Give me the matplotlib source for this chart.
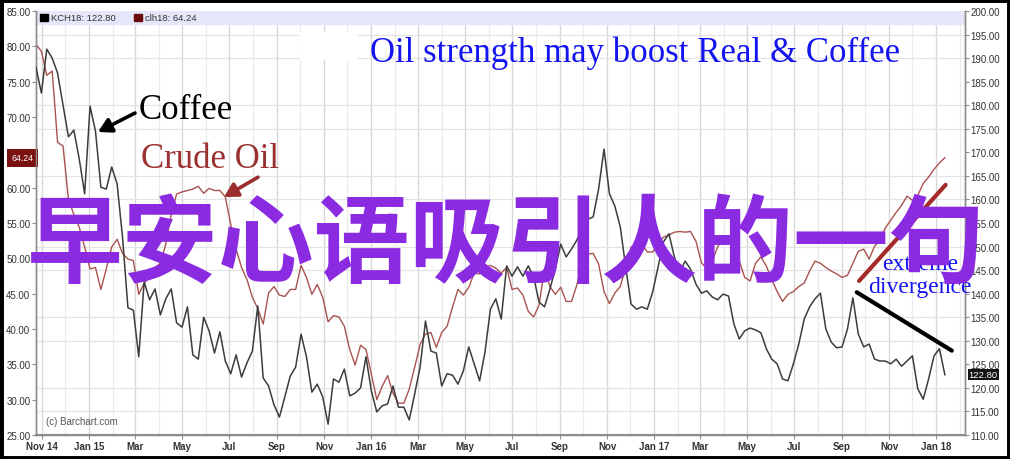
import matplotlib
matplotlib.use('Agg')
import matplotlib.pyplot as plt
import matplotlib.dates as mdates
from matplotlib.patches import Rectangle
from matplotlib.ticker import FixedLocator, FormatStrFormatter
import matplotlib.transforms as mtransforms
import numpy as np
import pandas as pd

# weekly closes, starting 2014-10-24
start_date = '2014-10-24'

coffee = [188.1, 182.6, 191.9, 190.0, 186.8, 180.0, 173.3, 174.7, 168.6, 161.2,
          179.8, 174.5, 162.6, 162.2, 166.9, 163.3, 152.0, 137.0, 136.5, 126.6,
          142.5, 138.7, 141.0, 135.5, 138.9, 141.0, 133.8, 132.9, 137.2, 127.0,
          126.1, 135.0, 132.1, 127.4, 131.9, 125.7, 123.0, 127.0, 122.3, 125.3,
          127.8, 137.4, 122.1, 120.4, 116.4, 113.8, 118.1, 122.5, 124.4, 131.4,
          126.6, 119.1, 120.8, 118.1, 112.3, 121.9, 121.2, 124.0, 118.3, 118.9,
          120.0, 126.6, 119.3, 114.9, 116.2, 116.6, 120.4, 115.9, 115.9, 113.2,
          118.7, 124.4, 134.2, 127.8, 127.4, 120.4, 123.0, 122.7, 120.8, 123.6,
          128.7, 125.1, 121.5, 127.6, 136.7, 138.9, 134.6, 145.9, 143.7, 145.7,
          143.7, 145.9, 143.5, 138.2, 137.2, 141.0, 145.2, 150.5, 147.8, 149.5,
          151.4, 154.2, 155.8, 156.3, 162.2, 170.7, 161.2, 158.6, 154.2, 145.7,
          137.8, 136.7, 137.2, 136.7, 140.4, 145.7, 151.0, 152.7, 147.8, 144.6,
          146.9, 145.2, 142.0, 140.1, 140.6, 139.3, 138.7, 139.9, 139.5, 133.6,
          130.4, 132.1, 132.7, 132.3, 131.7, 128.3, 126.1, 125.1, 121.9, 121.5,
          125.1, 129.3, 134.6, 137.2, 138.9, 140.1, 132.5, 129.7, 128.5, 128.7,
          132.5, 139.1, 131.4, 128.7, 129.3, 126.1, 125.7, 125.7, 125.1, 126.1,
          124.6, 125.7, 126.8, 119.8, 117.6, 121.9, 126.8, 128.3, 122.8]

crude = [80.3, 79.3, 75.9, 76.5, 66.4, 65.9, 58.4, 56.2, 54.4, 51.6,
         48.5, 48.7, 45.6, 48.5, 51.6, 52.7, 50.7, 49.9, 49.7, 44.9,
         46.5, 47.3, 48.7, 49.3, 52.0, 56.2, 59.1, 59.4, 59.6, 59.8,
         60.2, 59.2, 59.9, 59.6, 59.6, 58.7, 54.8, 51.3, 48.7, 47.0,
         44.5, 42.9, 40.7, 45.1, 46.0, 44.8, 44.6, 45.6, 45.6, 49.0,
         47.3, 44.9, 46.3, 44.5, 41.0, 41.9, 41.7, 40.4, 37.1, 34.9,
         37.7, 37.1, 33.6, 30.0, 31.9, 33.4, 30.9, 29.5, 29.5, 31.5,
         34.6, 37.8, 39.3, 39.5, 37.4, 39.5, 40.4, 43.1, 45.6, 44.8,
         45.9, 47.9, 47.8, 48.7, 49.0, 48.6, 47.9, 48.7, 45.6, 45.8,
         44.8, 42.5, 41.7, 43.4, 48.5, 46.0, 44.9, 45.9, 43.9, 43.9,
         46.3, 49.6, 50.6, 50.7, 49.2, 45.3, 43.6, 45.1, 46.0, 48.7,
         51.6, 51.7, 52.0, 50.9, 50.9, 52.1, 53.0, 53.3, 53.7, 53.8,
         53.7, 53.8, 52.4, 49.4, 48.5, 49.6, 51.6, 53.0, 52.3, 51.6,
         49.6, 47.3, 46.8, 49.3, 50.2, 48.9, 47.0, 45.3, 43.9, 44.9,
         45.3, 46.0, 46.5, 48.2, 49.6, 49.3, 48.7, 48.2, 47.8, 47.3,
         47.6, 49.3, 51.0, 51.3, 49.9, 51.7, 52.6, 54.3, 55.4, 56.5,
         57.5, 58.8, 58.2, 58.9, 60.6, 61.5, 62.6, 63.5, 64.24]

# hand-drawn trend lines (date, value)
oil_trend_dates = ['2017-09-23', '2018-01-13']
oil_trend_vals = [46.8, 60.4]
coffee_trend_dates = ['2017-09-20', '2018-01-21']
coffee_trend_vals = [140.3, 127.9]

dates = pd.date_range(start_date, periods=len(coffee), freq='7D')

fig = plt.figure(figsize=(10.1, 4.6), dpi=100)
ax = fig.add_axes([0.0356, 0.0522, 0.9198, 0.9217])
ax2 = ax.twinx()

grid_c = '#e3e3e3'
spine_c = '#8c8c8c'
lab_font = 'Liberation Sans'
serif = 'Liberation Serif'

# left axis: crude
ax.set_ylim(25, 85)
ax.set_xlim(pd.Timestamp('2014-10-24'), pd.Timestamp('2018-02-07'))
ax.yaxis.set_major_locator(FixedLocator(np.arange(25, 85.1, 5)))
ax.yaxis.set_major_formatter(FormatStrFormatter('%.2f'))
ax.yaxis.set_minor_locator(FixedLocator(25 + np.arange(0, 19) * 10 / 3))
ax.grid(True, which='minor', axis='y', color=grid_c, lw=0.9)
ax.tick_params(axis='y', which='minor', length=0)
ax.tick_params(axis='y', which='major', length=3, color=spine_c, labelsize=7,
               labelcolor='#333333', pad=1)

ax.xaxis.set_major_locator(mdates.MonthLocator(bymonth=[1, 3, 5, 7, 9, 11]))
ax.xaxis.set_minor_locator(mdates.MonthLocator())


def month_fmt(x, pos=None):
    d = mdates.num2date(x)
    if d.month == 1 or (d.month == 11 and d.year == 2014):
        return d.strftime('%b %y')
    return d.strftime('%b')


ax.xaxis.set_major_formatter(plt.FuncFormatter(month_fmt))
ax.grid(True, which='major', axis='x', color='#d6d6d6', lw=0.9)
ax.grid(True, which='minor', axis='x', color='#ebebeb', lw=0.9)
ax.tick_params(axis='x', which='major', length=3, color=spine_c, labelsize=7, pad=1)
ax.tick_params(axis='x', which='minor', length=0)
for t in ax.get_xticklabels():
    t.set_fontweight('bold')
    t.set_color('#333333')
for t in ax.get_xticklabels() + ax.get_yticklabels():
    t.set_family(lab_font)

# right axis: coffee
ax2.set_ylim(110, 200)
ax2.yaxis.set_major_locator(FixedLocator(np.arange(110, 200.1, 5)))
ax2.yaxis.set_major_formatter(FormatStrFormatter('%.2f'))
ax2.tick_params(axis='y', length=3, color=spine_c, labelsize=7, labelcolor='#333333', pad=1)
for t in ax2.get_yticklabels():
    t.set_family(lab_font)

for a in (ax, ax2):
    for s in a.spines.values():
        s.set_color(spine_c)
        s.set_linewidth(1.0)
    a.spines['top'].set_visible(False)
ax.spines['bottom'].set_linewidth(1.5)
ax.set_axisbelow(True)

ax.plot(dates, crude, color='#a8534f', lw=1.0, zorder=3)
ax2.plot(dates, coffee, color='#3c3c3c', lw=1.1, zorder=3)

# header strip with legend
ax.add_patch(Rectangle((0, 0.969), 1, 0.031, transform=ax.transAxes,
                       color='#e6e6fa', zorder=1))
ax2.add_patch(Rectangle((0.0044, 0.977), 0.009, 0.016, transform=ax.transAxes,
                        color='black', zorder=5))
ax2.text(0.0161, 0.985, 'KCH18: 122.80', transform=ax.transAxes, fontsize=6.8,
         family=lab_font, color='#333333', va='center', zorder=5)
ax2.add_patch(Rectangle((0.1055, 0.977), 0.009, 0.016, transform=ax.transAxes,
                        color='#6b0a0a', zorder=5))
ax2.text(0.1173, 0.985, 'clh18: 64.24', transform=ax.transAxes, fontsize=6.8,
         family=lab_font, color='#333333', va='center', zorder=5)

ax2.text(0.011, 0.027, '(c) Barchart.com', transform=ax.transAxes, fontsize=7,
         family=lab_font, color='#555555', zorder=5)

# last-price tags (the oil tag hides the 65.00 label, as in the original)
tl = mtransforms.blended_transform_factory(ax.transAxes, ax.transData)
ax.text(-0.003, crude[-1], '%.2f' % crude[-1], transform=tl, ha='right', va='center',
        fontsize=6.3, family=lab_font, color='white', zorder=6, clip_on=False,
        bbox=dict(boxstyle='square,pad=0.5', fc='#7a1212', ec='none'))
tr = mtransforms.blended_transform_factory(ax2.transAxes, ax2.transData)
ax2.text(1.004, coffee[-1], '%.2f' % coffee[-1], transform=tr, ha='left', va='center',
         fontsize=6.8, family=lab_font, color='white', zorder=6, clip_on=False,
         bbox=dict(boxstyle='square,pad=0.12', fc='#111111', ec='none'))

# white patch near the title
ax2.add_patch(Rectangle((0.284, 0.887), 0.061, 0.064, transform=ax.transAxes,
                        color='white', zorder=4))

# annotations
ax2.text(0.3595, 0.882, 'Oil strength may boost Real & Coffee', transform=ax.transAxes,
         fontsize=25, family=serif, color='#1414f0', va='baseline', zorder=6)
ax2.text(0.1109, 0.7476, 'Coffee', transform=ax.transAxes, fontsize=25,
         family=serif, color='black', va='baseline', zorder=6)
ax2.annotate('', xy=(0.0667, 0.7146), xytext=(0.1066, 0.7594),
             xycoords='axes fraction', textcoords='axes fraction', zorder=6,
             arrowprops=dict(arrowstyle='-|>,head_length=0.8,head_width=0.45',
                             color='black', lw=2.6, shrinkA=0, shrinkB=0))
ax2.text(0.1130, 0.632, 'Crude Oil', transform=ax.transAxes, fontsize=25,
         family=serif, color='#9a3030', va='baseline', zorder=6)
ax2.annotate('', xy=(0.2024, 0.5613), xytext=(0.239, 0.608),
             xycoords='axes fraction', textcoords='axes fraction', zorder=6,
             arrowprops=dict(arrowstyle='-|>,head_length=0.8,head_width=0.45',
                             color='#9b2d2d', lw=2.6, shrinkA=0, shrinkB=0))

ax.plot(pd.to_datetime(oil_trend_dates), oil_trend_vals, color='#a52a2a', lw=3,
        solid_capstyle='round', zorder=4)
ax2.plot(pd.to_datetime(coffee_trend_dates), coffee_trend_vals, color='black', lw=3,
         solid_capstyle='round', zorder=4, clip_on=False)
ax2.text(0.9516, 0.3915, 'extreme', transform=ax.transAxes, fontsize=17,
         family=serif, color='#1414f0', ha='center', va='baseline', zorder=6)
ax2.text(0.9516, 0.3373, 'divergence', transform=ax.transAxes, fontsize=17,
         family=serif, color='#1414f0', ha='center', va='baseline', zorder=6)

# overlay caption
fig.text(0.501, 0.463, '早安心语吸引人的一句', fontsize=69, color='#8a2be2',
         fontweight='bold', family=['Noto Sans CJK SC', 'DejaVu Sans'],
         ha='center', va='center', zorder=10)

fig.patches.append(Rectangle((0, 0), 1, 1, transform=fig.transFigure, fill=False,
                             edgecolor='black', lw=5))

fig.savefig('out.png', dpi=100)
